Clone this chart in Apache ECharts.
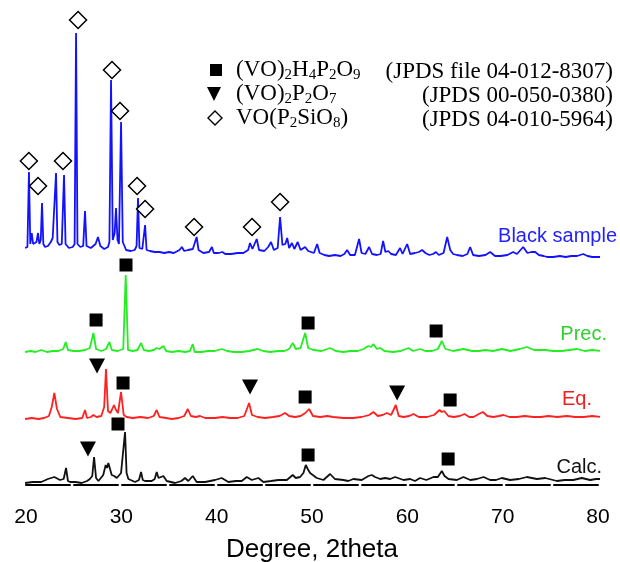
<!DOCTYPE html>
<html>
<head>
	<meta charset="utf-8">
	<title>XRD patterns</title>
	<script type="text/javascript" src="https://cdn.jsdelivr.net/npm/echarts@6/dist/echarts.min.js"></script>
	<style>body { margin: 0; }</style>
</head>

<body>
	<div style="height: 562px; width: 620px" id="xrd"></div>

	<script type="text/javascript">
		// x axis ticks (2theta)
		var xTicks = [20, 30, 40, 50, 60, 70, 80];

		// patterns: [2theta, intensity above its own baseline]
		var blackSample = [[19.9,10],[20.15,11],[20.31,86],[20.45,14],[20.6,25],[20.75,14],[21.1,16],[21.26,25],[21.4,14],[21.55,18],[21.68,55],[21.82,14],[22.0,11],[22.3,12],[22.6,16],[22.8,20],[22.95,22],[23.15,85],[23.3,16],[23.5,13],[23.75,14],[23.99,83],[24.15,14],[24.5,10],[24.9,11],[25.1,14],[25.25,225],[25.4,14],[25.7,11],[26.0,12],[26.19,47],[26.35,12],[26.8,10],[27.3,14],[27.55,21],[27.8,12],[28.2,9],[28.6,11],[28.75,16],[28.92,178],[29.1,18],[29.3,25],[29.44,50],[29.6,18],[29.75,14],[29.97,136],[30.15,16],[30.5,8],[31.0,7],[31.4,8],[31.6,12],[31.75,60],[31.9,10],[32.2,9],[32.35,10],[32.49,33],[32.65,8],[33.0,7],[33.5,6],[34.0,6],[34.5,5],[35.0,6],[35.5,5],[36.1,8],[36.35,11],[36.6,7],[36.8,9],[37.0,8],[37.5,9],[37.9,21],[38.1,8],[38.6,5],[39.2,6],[39.5,11],[39.7,5],[40.2,5],[40.6,6],[40.9,4],[41.5,4],[42.2,5],[42.8,5],[43.3,8],[43.5,15],[43.75,9],[44.2,19],[44.45,8],[45.0,7],[45.4,11],[45.7,16],[46.0,8],[46.4,10],[46.65,41],[46.9,13],[47.2,14],[47.4,20],[47.6,10],[47.9,15],[48.15,9],[48.5,16],[48.8,8],[49.28,11],[49.6,7],[49.8,6],[50.2,5],[50.54,14],[50.8,5],[51.3,3],[51.8,2],[52.4,3],[53.0,2],[53.4,4],[53.68,8],[54.0,3],[54.5,3],[54.94,19],[55.2,5],[55.6,4],[55.99,11],[56.3,4],[56.8,3],[57.2,4],[57.46,17],[57.7,6],[58.0,7],[58.3,4],[58.8,3],[59.24,10],[59.5,4],[59.98,14],[60.3,4],[60.8,5],[61.2,6],[61.55,8],[61.9,5],[62.3,3],[62.7,4],[63.0,6],[63.3,3],[63.8,5],[64.18,21],[64.5,8],[64.8,4],[65.2,3],[65.8,2],[66.3,4],[66.59,11],[66.9,3],[67.5,2],[68.2,3],[68.69,6],[69.2,2],[69.8,2],[70.5,3],[71.1,6],[71.5,4],[72.15,11],[72.6,5],[73.0,6],[73.41,6],[73.8,3],[74.3,2],[74.67,1],[75.3,1],[76.0,2],[76.6,1],[77.2,2],[77.8,2],[78.45,4],[78.9,2],[79.4,1],[80.0,1],[80.4,1]];
		var prec = [[19.9,0],[20.5,1],[21.0,0],[21.6,2],[22.2,0],[22.8,1],[23.4,1],[23.9,3],[24.17,10],[24.4,2],[25.0,1],[25.6,1],[26.2,2],[26.7,4],[27.07,19],[27.35,3],[27.9,1],[28.4,3],[28.75,10],[29.0,2],[29.6,1],[30.2,3],[30.46,77],[30.7,2],[31.2,1],[31.7,2],[32.07,9],[32.35,2],[32.9,1],[33.4,2],[33.71,4],[34.0,3],[34.41,6],[34.7,1],[35.3,0],[36.0,1],[36.7,0],[37.2,1],[37.49,8],[37.7,0],[38.4,0],[39.1,1],[39.8,1],[40.53,3],[41.1,1],[41.8,0],[42.63,0],[43.4,1],[44.31,3],[44.9,1],[45.6,0],[46.48,1],[47.1,1],[47.6,3],[47.98,9],[48.3,3],[48.8,4],[49.28,19],[49.6,4],[50.15,2],[51.0,1],[51.9,4],[52.5,1],[53.3,0],[54.0,1],[54.8,1],[55.4,3],[55.9,6],[56.2,5],[56.44,8],[56.8,3],[57.15,4],[57.6,1],[58.5,0],[59.3,1],[60.12,4],[60.6,1],[61.34,3],[61.9,1],[62.6,1],[63.2,3],[63.62,11],[64.0,3],[64.8,1],[65.89,3],[66.8,1],[67.5,1],[68.16,2],[69.0,1],[69.91,3],[70.8,1],[71.8,3],[72.54,5],[73.3,2],[74.46,2],[75.3,1],[76.2,1],[77.0,2],[77.79,3],[78.6,1],[79.4,2],[80.41,1]];
		var eq = [[19.9,0],[20.6,1],[21.3,0],[21.9,1],[22.4,3],[22.7,12],[22.97,26],[23.25,10],[23.6,2],[24.4,1],[25.2,0],[25.9,1],[26.19,9],[26.4,1],[26.8,2],[27.07,4],[27.4,2],[27.9,3],[28.2,12],[28.39,50],[28.6,8],[28.85,6],[29.0,9],[29.23,14],[29.44,9],[29.65,6],[29.97,27],[30.25,4],[30.56,2],[31.2,1],[32.0,2],[32.8,1],[33.4,3],[33.71,9],[34.0,2],[34.7,1],[35.29,0],[36.0,1],[36.6,3],[36.97,10],[37.3,3],[37.8,2],[38.26,3],[38.8,1],[39.83,1],[40.6,2],[41.4,1],[42.2,1],[42.9,3],[43.4,16],[43.7,4],[44.3,2],[45.08,1],[45.9,2],[46.6,3],[47.18,6],[47.6,3],[48.2,2],[48.8,3],[49.3,6],[49.7,10],[50.1,3],[50.85,2],[51.6,3],[52.2,2],[53.3,1],[54.3,1],[55.2,2],[56.0,4],[56.44,7],[56.9,3],[57.4,4],[57.85,6],[58.3,4],[58.79,14],[59.1,3],[59.6,2],[60.2,3],[60.64,5],[61.2,2],[62.05,2],[62.8,4],[63.38,9],[63.6,7],[63.86,8],[64.3,3],[64.84,2],[65.5,3],[65.99,5],[66.5,2],[66.94,2],[67.5,5],[67.92,7],[68.4,3],[69.03,2],[69.6,3],[70.08,4],[70.7,2],[71.5,2],[72.3,3],[73.23,2],[74.0,2],[74.8,3],[75.7,2],[76.73,3],[77.6,2],[78.5,2],[79.4,3],[80.41,2]];
		var calc = [[19.9,0],[20.7,1],[21.6,1],[22.3,4],[22.97,6],[23.57,3],[23.95,4],[24.2,15],[24.4,2],[24.62,1],[25.2,1],[25.84,0],[26.4,2],[26.7,4],[26.95,7],[27.14,26],[27.35,5],[27.6,2],[28.1,8],[28.36,18],[28.5,15],[28.64,20],[28.99,8],[29.25,7],[29.52,5],[29.97,10],[30.11,8],[30.39,51],[30.55,10],[30.74,4],[31.44,1],[31.85,3],[32.07,11],[32.25,3],[32.49,2],[33.19,2],[33.5,4],[33.71,11],[33.9,5],[34.06,4],[34.41,7],[34.76,2],[35.64,0],[36.3,2],[36.68,5],[37.03,2],[37.49,7],[37.9,1],[38.8,1],[39.83,3],[40.53,5],[41.23,1],[42.0,2],[42.63,2],[43.16,6],[43.68,3],[44.38,5],[44.9,1],[45.7,2],[46.48,3],[47.36,3],[47.98,8],[48.3,5],[48.75,6],[49.1,10],[49.35,18],[49.55,14],[49.8,10],[50.5,5],[51.2,3],[51.9,9],[52.4,4],[53.3,3],[53.8,2],[54.34,4],[55.22,3],[55.92,7],[56.1,5],[56.27,8],[56.62,6],[57.15,4],[57.67,5],[58.2,4],[58.72,6],[59.6,3],[60.3,4],[60.8,2],[61.34,5],[62.0,3],[62.74,6],[63.2,6],[63.62,12],[63.9,7],[64.32,4],[65.19,3],[65.89,6],[66.6,3],[67.3,4],[67.99,6],[68.69,3],[69.3,3],[69.91,5],[70.79,3],[71.7,4],[72.54,6],[73.59,4],[74.46,5],[75.69,2],[76.5,3],[77.4,3],[78.3,5],[79.18,3],[79.8,4],[80.41,4]];

		var names = ['Black sample', 'Prec.', 'Eq.', 'Calc.'];
		var offsets = [227, 133, 66, 2];
		var colors = ['#1212ff', '#22ee22', '#ff2020', '#111111'];
		var labelColors = ['#1f1fff', '#2fd02f', '#f02020', '#111111'];

		// phase marks [2theta, height on the stacked scale]
		var squareMarks = [[30.49,220],[27.35,165],[49.59,162],[63.02,154],[30.18,102],[49.28,88],[64.49,85],[29.65,61],[49.59,30],[64.28,26]];
		var triangleMarks = [[27.45,119],[43.5,98],[58.93,92],[26.5,36]];
		var diamondMarks = [[20.3,324],[21.26,299],[23.88,324],[25.46,465],[29.02,415],[29.86,374],[31.65,299],[32.49,276],[37.63,258],[43.71,258],[46.65,283]];

		function shift(data, off) {
			var out = [];
			for (var i in data) {
				out.push([data[i][0], data[i][1] + off]);
			}
			return out;
		}

		var patterns = [blackSample, prec, eq, calc];
		var series = [];
		for (var k in patterns) {
			series.push({
				name: names[k],
				type: 'line',
				data: shift(patterns[k], offsets[k]),
				showSymbol: false,
				symbol: 'none',
				clip: false,
				lineStyle: { color: colors[k], width: 1.8 },
				z: 2
			});
		}
		series.push({
			type: 'scatter', data: squareMarks, symbol: 'rect', symbolSize: 13,
			itemStyle: { color: '#000', opacity: 1 }, z: 3
		});
		series.push({
			type: 'scatter', data: triangleMarks, symbol: 'triangle', symbolSize: [16, 15], symbolRotate: 180,
			itemStyle: { color: '#000', opacity: 1 }, z: 3
		});
		series.push({
			type: 'scatter', data: diamondMarks, symbol: 'diamond', symbolSize: [17, 17],
			itemStyle: { color: '#fff', borderColor: '#000', borderWidth: 1.5, opacity: 1 }, z: 3
		});

		var serif = "'Liberation Serif', 'Times New Roman', serif";
		var rich = {
			n: { fontSize: 23, fontFamily: serif, color: '#000', lineHeight: 26 },
			s: { fontSize: 15, fontFamily: serif, color: '#000', lineHeight: 15, verticalAlign: 'bottom' }
		};
		function legendText(str, x, y) {
			return { type: 'text', left: x, top: y, style: { text: str, rich: rich } };
		}
		function refText(str, y) {
			return { type: 'text', right: 7, top: y, style: { text: str, font: '23px ' + serif, fill: '#000' } };
		}
		function traceLabel(k, right, y) {
			return { type: 'text', right: right, top: y, style: { text: names[k], font: '20px "Liberation Sans", Arial', fill: labelColors[k] } };
		}

		var chart = echarts.init(document.getElementById('xrd'));
		var option = {
			animation: false,
			grid: { left: 26, right: 22, top: 0, bottom: 77, outerBoundsMode: 'none', containLabel: false },
			xAxis: {
				type: 'value',
				min: xTicks[0],
				max: xTicks[xTicks.length - 1],
				interval: 10,
				name: 'Degree, 2theta',
				nameLocation: 'middle',
				nameGap: 52,
				nameTextStyle: { fontSize: 26, fontFamily: 'Liberation Sans', color: '#000' },
				axisLine: { lineStyle: { color: '#000', width: 2, type: [44, 4] } },
				axisTick: { show: false },
				splitLine: { show: false },
				axisLabel: { fontSize: 21, fontFamily: 'Liberation Sans', color: '#000', margin: 22 }
			},
			yAxis: { type: 'value', min: 0, max: 485, show: false },
			graphic: [
				{ type: 'rect', left: 210, top: 64, shape: { width: 12, height: 12 }, style: { fill: '#000' } },
				{ type: 'polygon', shape: { points: [[207, 87], [221, 87], [214, 101]] }, style: { fill: '#000' } },
				{ type: 'polygon', shape: { points: [[215, 111], [222, 118], [215, 125], [208, 118]] }, style: { fill: '#fff', stroke: '#000', lineWidth: 1.4 } },
				legendText('{n|(VO)}{s|2}{n|H}{s|4}{n|P}{s|2}{n|O}{s|9}', 236, 58),
				legendText('{n|(VO)}{s|2}{n|P}{s|2}{n|O}{s|7}', 236, 82),
				legendText('{n|VO(P}{s|2}{n|SiO}{s|8}{n|)}', 236, 106),
				refText('(JPDS file 04-012-8307)', 60),
				refText('(JPDS 00-050-0380)', 84),
				refText('(JPDS 04-010-5964)', 108),
				traceLabel(0, 3, 226),
				traceLabel(1, 13, 324),
				traceLabel(2, 28, 389),
				traceLabel(3, 18, 457)
			],
			series: series
		};
		chart.setOption(option);
	</script>
</body>
</html>
